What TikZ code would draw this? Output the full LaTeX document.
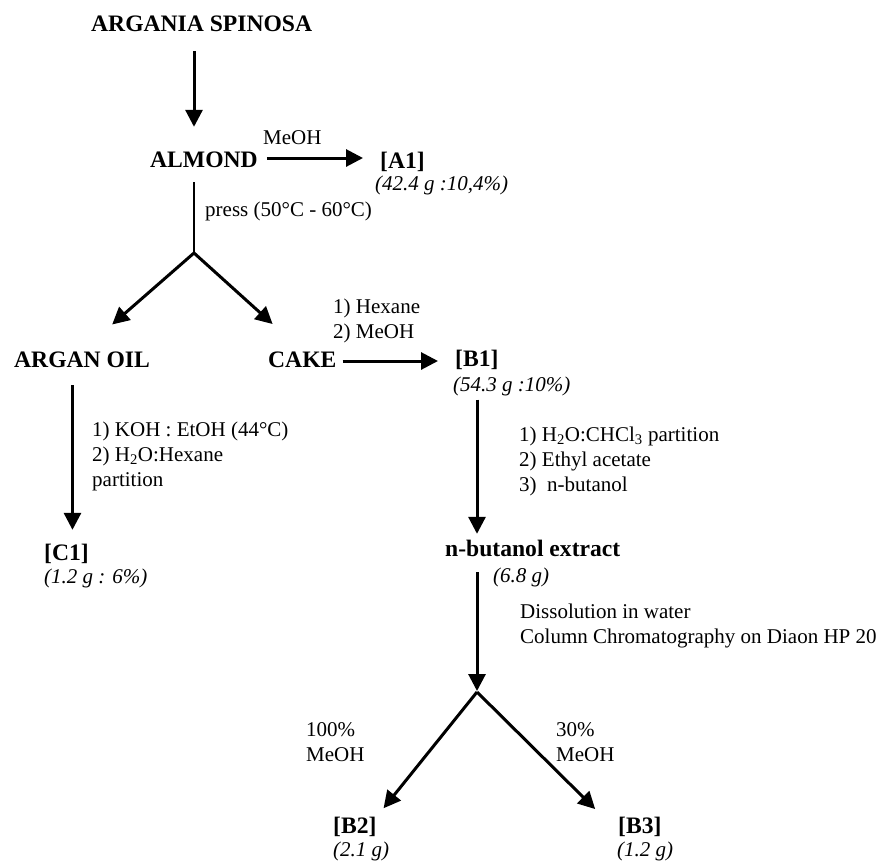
\documentclass[tikz,border=0pt]{standalone}
\usepackage{fontspec}
\setmainfont{Liberation Serif}
\usetikzlibrary{arrows.meta,calc}
\tikzset{
  arr/.style={line width=3pt,-{Triangle[length=17pt,width=17pt]}},
  stem/.style={line width=2pt},
  title/.style={inner sep=0pt,anchor=base west,text height=16pt,text depth=4pt,
    font=\fontsize{23.6}{28}\selectfont\bfseries},
  yield/.style={inner sep=0pt,anchor=base west,font=\fontsize{21}{25}\selectfont\itshape},
  note/.style={inner sep=0pt,anchor=north west,align=left,font=\fontsize{21}{25}\selectfont},
}
\begin{document}
\begin{tikzpicture}[x=1pt,y=-1pt]
    \useasboundingbox (0,0) rectangle (882,860);
    % forks
    \coordinate (fork1) at (194,253);
    \coordinate (fork2) at (477,692);
    % products
    \node[title] (spinosa) at (91,31) {ARGANIA SPINOSA};
    \node[title] (almond) at (150,167) {ALMOND};
    \node[title] (a1) at (380,168) {[A1]};
    \node[yield] (a1y) at (375,190) {(42.4 g :10,4\%)};
    \node[title] (argan) at (14,367) {ARGAN OIL};
    \node[title] (cake) at (268,367) {CAKE};
    \node[title] (b1) at (455,366) {[B1]};
    \node[yield] (b1y) at (453,391) {(54.3 g :10\%)};
    \node[title] (c1) at (44,560) {[C1]};
    \node[yield] (c1y) at (44,583) {(1.2 g : 6\%)};
    \node[title] (nbut) at (445,556) {n-butanol extract};
    \node[yield] (nbuty) at (493,582) {(6.8 g)};
    \node[title] (b2) at (333,833) {[B2]};
    \node[yield] (b2y) at (333,856) {(2.1 g)};
    \node[title] (b3) at (618,833) {[B3]};
    \node[yield] (b3y) at (617,856) {(1.2 g)};
    \coordinate (c1top) at ($(c1.north)+(6,0)$);
    % conditions
    \node[note] (meoh) at (263,130) {MeOH};
    \node[note] (press) at (205,201.5) {press (50°C - 60°C)};
    \node[note] (solv) at (333,299) {1) Hexane\\2) MeOH};
    \node[note] (sapon) at (92,422) {1) KOH : EtOH (44°C)\\2) H\textsubscript{2}O:Hexane\\partition};
    \node[note] (part) at (519,427) {1) H\textsubscript{2}O:CHCl\textsubscript{3} partition\\2) Ethyl acetate\\3)\ \ n-butanol};
    \node[note] (column) at (520,604) {Dissolution in water\\Column Chromatography on Diaon HP 20};
    \node[note] (elu1) at (306,722) {100\%\\MeOH};
    \node[note] (elu2) at (556,722) {30\%\\MeOH};
    % arrows
    \draw[arr,shorten <=16pt,shorten >=24pt] (spinosa.south -| fork1) -- (almond.north -| fork1);
    \draw[arr,shorten <=9pt,shorten >=17pt] ($(almond.east)+(0,-3)$) -- ($(almond.east -| a1.west)+(0,-3)$);
    \draw[stem,shorten <=11pt] (almond.south -| fork1) -- (fork1);
    \draw[arr,shorten >=40pt] (fork1) -- (argan.north);
    \draw[arr,shorten >=40pt] (fork1) -- (cake.north);
    \draw[arr,shorten <=6pt,shorten >=17pt] (cake.east) -- (cake.east -| b1.west);
    \draw[arr,shorten <=14pt,shorten >=14pt] (argan.south -| c1top) -- (c1top);
    \draw[arr,shorten <=4pt,shorten >=6pt] (b1y.south -| fork2) -- (nbut.north -| fork2);
    \draw[arr,shorten <=12pt,shorten >=1pt] (nbut.south -| fork2) -- (fork2);
    \draw[arr,shorten >=11pt] (fork2) -- (b2.north east);
    \draw[arr,shorten >=11pt] (fork2) -- ($(b3.north west)+(-15,0)$);
\end{tikzpicture}
\end{document}
